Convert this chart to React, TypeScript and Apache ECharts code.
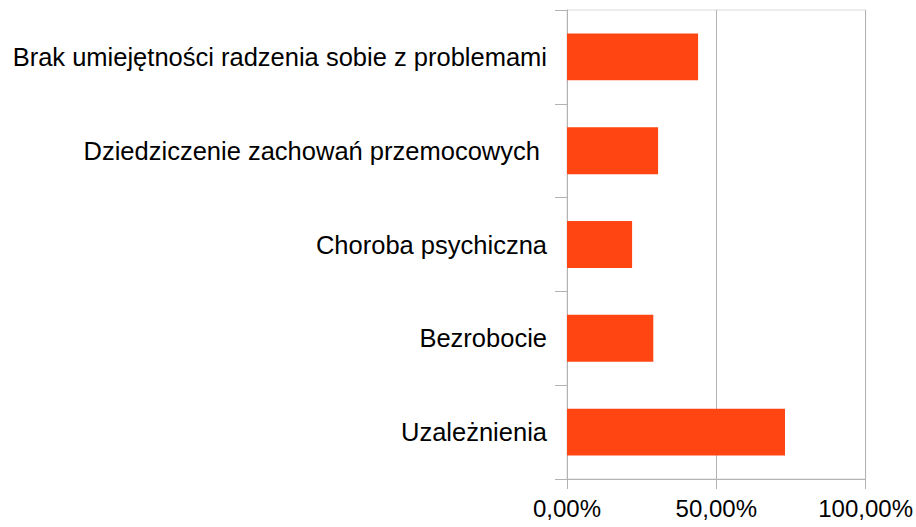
import React, { useEffect, useRef } from "react";
import * as echarts from "echarts";

const categories = [
  "Uzależnienia",
  "Bezrobocie",
  "Choroba psychiczna",
  "Dziedziczenie zachowań przemocowych ",
  "Brak umiejętności radzenia sobie z problemami",
];
const values = [73.0, 28.9, 21.8, 30.5, 43.9];
const xTicks = [0, 50, 100];

export default function App() {
  const ref = useRef<HTMLDivElement>(null);
  useEffect(() => {
    if (!ref.current) return;
    const chart = echarts.init(ref.current, null, { renderer: "svg" });
    chart.setOption({
      animation: false,
      backgroundColor: "#ffffff",
      grid: {
        left: 567,
        right: 50,
        top: 10,
        bottom: 48,
        show: true,
        borderColor: "#d9d9d9",
        borderWidth: 1,
        containLabel: false,
      },
      xAxis: {
        type: "value",
        min: xTicks[0],
        max: xTicks[xTicks.length - 1],
        interval: 50,
        axisLine: { show: true, lineStyle: { color: "#b3b3b3", width: 1 } },
        axisTick: { show: true, length: 10, lineStyle: { color: "#b3b3b3" } },
        splitLine: { show: true, lineStyle: { color: "#b3b3b3", width: 1 } },
        axisLabel: {
          color: "#000000",
          fontFamily: "Liberation Sans",
          fontSize: 24,
          margin: 17,
          formatter: (v: number) => v.toFixed(2).replace(".", ",") + "%",
        },
      },
      yAxis: {
        type: "category",
        data: categories,
        axisLine: { show: true, lineStyle: { color: "#b3b3b3", width: 1 } },
        axisTick: { show: true, length: 12, lineStyle: { color: "#b3b3b3" } },
        splitLine: { show: false },
        axisLabel: {
          color: "#000000",
          fontFamily: "Liberation Sans",
          fontSize: 25.5,
          margin: 20,
        },
      },
      series: [
        {
          type: "bar",
          data: values,
          barCategoryGap: "50%",
          itemStyle: { color: "#ff4512" },
        },
      ],
    });
    return () => chart.dispose();
  }, []);
  return (
    <div
      ref={ref}
      style={{ position: "fixed", left: 0, top: 0, width: 916, height: 527 }}
    />
  );
}
